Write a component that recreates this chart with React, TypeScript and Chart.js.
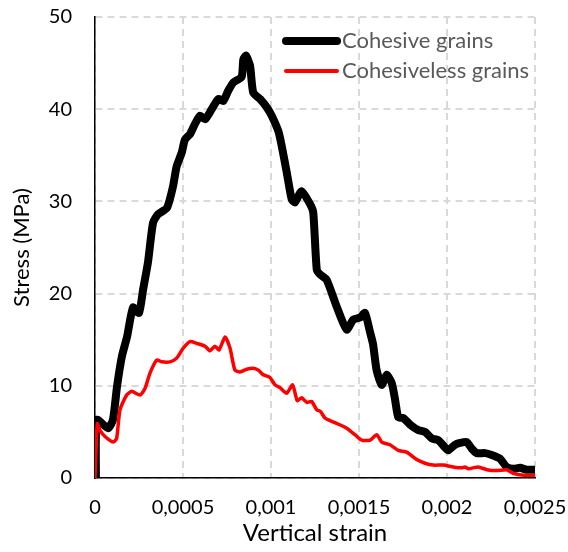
import React, { useEffect, useRef } from "react";
import { Chart, registerables } from "chart.js";

Chart.register(...registerables);

const seriesNames = ["Cohesive grains", "Cohesiveless grains"];

const cohesiveStrain = [
  0.000005, 0.000011, 0.000074, 0.000102, 0.000125, 0.000153, 0.000182, 0.000216, 0.00025, 0.000273,
  0.000301, 0.00033, 0.000358, 0.000409, 0.000443, 0.000464, 0.000493, 0.000511, 0.00054, 0.000568,
  0.000597, 0.000625, 0.000663, 0.000701, 0.000729, 0.000757, 0.000786, 0.000833, 0.000843, 0.000858,
  0.000881, 0.000899, 0.000938, 0.000976, 0.001004, 0.001042, 0.001061, 0.001089, 0.001118, 0.001136,
  0.001174, 0.001222, 0.00124, 0.00126, 0.001278, 0.001316, 0.001373, 0.00143, 0.001468, 0.001506,
  0.001534, 0.001563, 0.00158, 0.0016, 0.001629, 0.001657, 0.001686, 0.001705, 0.001723, 0.001752,
  0.00179, 0.001837, 0.001875, 0.001913, 0.001951, 0.001989, 0.002007, 0.002045, 0.002074, 0.002112,
  0.00214, 0.002169, 0.002216, 0.002254, 0.002301, 0.002339, 0.002377, 0.002415, 0.002453, 0.0025,
];
const cohesiveStress = [
  0, 6.3, 5.4, 6.3, 9.9, 13.2, 15.3, 18.5, 17.9, 20.4,
  23.4, 27.7, 28.6, 29.3, 31.6, 33.8, 35.3, 36.7, 37.3, 38.4,
  39.3, 38.9, 40.0, 41.1, 40.9, 42.0, 42.9, 43.5, 45.4, 45.8,
  44.7, 41.8, 41.1, 40.2, 39.3, 37.6, 36.0, 33.2, 30.2, 29.9,
  31.1, 29.7, 28.8, 22.6, 22.1, 21.5, 18.6, 16.1, 17.2, 17.4,
  17.9, 15.8, 14.5, 11.7, 10.1, 11.2, 10.3, 8.5, 6.6, 6.5,
  5.8, 5.2, 5.0, 4.3, 4.1, 3.3, 3.0, 3.6, 3.8, 3.9,
  3.2, 2.7, 2.7, 2.5, 2.1, 1.2, 1.0, 1.1, 0.9, 0.9,
];

const cohesivelessStrain = [
  0, 0.000013, 0.000028, 0.000057, 0.000104, 0.000123, 0.000142, 0.00018, 0.000209, 0.000256,
  0.000284, 0.000313, 0.000351, 0.000379, 0.000426, 0.000464, 0.000502, 0.00054, 0.000578, 0.000625,
  0.000653, 0.000682, 0.000705, 0.000739, 0.000767, 0.000795, 0.000824, 0.000862, 0.000899, 0.000928,
  0.000956, 0.000994, 0.001023, 0.001051, 0.001089, 0.001123, 0.001149, 0.001174, 0.001203, 0.001231,
  0.00126, 0.001282, 0.001307, 0.001364, 0.00143, 0.001477, 0.001515, 0.001563, 0.001601, 0.001629,
  0.001676, 0.001723, 0.001771, 0.001828, 0.001875, 0.001922, 0.001979, 0.002036, 0.002084, 0.002102,
  0.002121, 0.002178, 0.002226, 0.002282, 0.002339, 0.002377, 0.002434, 0.0025,
];
const cohesivelessStress = [
  0, 5.9, 5.2, 4.5, 3.9, 4.3, 7.4, 9.0, 9.4, 9.0,
  9.7, 11.4, 12.8, 12.6, 12.6, 13.0, 14.1, 14.8, 14.6, 14.3,
  13.8, 14.3, 13.9, 15.3, 14.1, 11.7, 11.5, 11.8, 11.9, 11.7,
  11.2, 10.9, 10.1, 9.8, 9.2, 10.1, 8.4, 8.7, 8.2, 8.3,
  7.4, 7.2, 6.5, 6.0, 5.4, 4.7, 4.1, 4.1, 4.7, 3.9,
  3.6, 3.0, 2.8, 2.0, 1.6, 1.4, 1.4, 1.2, 1.1, 1.2,
  1.0, 1.2, 0.9, 0.8, 0.9, 0.5, 0.3, 0.3,
];

const xTitle = "Vertical strain";
const yTitle = "Stress (MPa)";

const FONT = "Lato, 'Open Sans', sans-serif";

function toPoints(xs: number[], ys: number[]) {
  return xs.map((x, i) => ({ x, y: ys[i] }));
}

const legendPlugin = {
  id: "insideLegend",
  afterDraw(chart: any) {
    const ctx = chart.ctx;
    const items = [
      { color: "#000000", width: 8, y: 41 },
      { color: "#ff0000", width: 4, y: 71 },
    ];
    ctx.save();
    items.forEach((it, i) => {
      ctx.beginPath();
      ctx.strokeStyle = it.color;
      ctx.lineWidth = it.width;
      ctx.lineCap = "round";
      ctx.moveTo(286, it.y);
      ctx.lineTo(337, it.y);
      ctx.stroke();
      ctx.fillStyle = "#595959";
      ctx.font = `22px ${FONT}`;
      ctx.textBaseline = "middle";
      ctx.textAlign = "left";
      ctx.fillText(seriesNames[i], 342, it.y);
    });
    ctx.restore();
  },
};

export default function App() {
  const ref = useRef<HTMLCanvasElement>(null);
  useEffect(() => {
    if (!ref.current) return;
    const fmt = (v: number, d: number) => String(Math.round(v * d) / d).replace(".", ",");
    const chart = new Chart(ref.current, {
      type: "scatter",
      data: {
        datasets: [
          {
            label: seriesNames[0],
            data: toPoints(cohesiveStrain, cohesiveStress),
            showLine: true,
            borderColor: "#000000",
            backgroundColor: "#000000",
            borderWidth: 8,
            pointRadius: 0,
            borderJoinStyle: "round",
            borderCapStyle: "round",
            tension: 0.2,
            order: 2,
          },
          {
            label: seriesNames[1],
            data: toPoints(cohesivelessStrain, cohesivelessStress),
            showLine: true,
            borderColor: "#ff0000",
            backgroundColor: "#ff0000",
            borderWidth: 3.5,
            pointRadius: 0,
            borderJoinStyle: "round",
            borderCapStyle: "round",
            tension: 0.2,
            order: 1,
          },
        ],
      },
      options: {
        responsive: false,
        animation: false,
        layout: { padding: { top: 17, right: 33, left: 9, bottom: 0 } },
        plugins: { legend: { display: false }, tooltip: { enabled: false } },
        scales: {
          x: {
            type: "linear",
            min: 0,
            max: 0.0025,
            ticks: {
              stepSize: 0.0005,
              color: "#000",
              font: { family: FONT, size: 20 },
              padding: 18,
              maxRotation: 0,
              callback: (v: any) => fmt(Number(v), 10000),
            },
            grid: {
              color: "#d9d9d9",
              lineWidth: 2,
              drawTicks: false,
            },
            border: { display: true, color: "#000", width: 1.5, dash: [7, 5] },
            title: {
              display: true,
              text: xTitle,
              color: "#000",
              font: { family: FONT, size: 24 },
              padding: { top: 0, bottom: 4 },
            },
            afterFit: (s: any) => {
              s.height = 74;
              s.paddingLeft = 0;
              s.paddingRight = 0;
            },
          },
          y: {
            type: "linear",
            min: 0,
            max: 50,
            ticks: {
              stepSize: 10,
              color: "#000",
              font: { family: FONT, size: 20 },
              padding: 23,
              callback: (v: any) => fmt(Number(v), 1),
            },
            grid: {
              color: "#d9d9d9",
              lineWidth: 2,
              drawTicks: false,
            },
            border: { display: true, color: "#000", width: 1.5, dash: [7, 5] },
            title: {
              display: true,
              text: yTitle,
              color: "#000",
              font: { family: FONT, size: 22 },
              padding: { top: 0, bottom: 0 },
            },
            afterFit: (s: any) => {
              s.width = 86;
              s.paddingTop = 0;
              s.paddingBottom = 0;
            },
          },
        },
      } as any,
      plugins: [legendPlugin],
    });
    return () => chart.destroy();
  }, []);
  return (
    <div style={{ position: "fixed", left: 0, top: 0, width: 568, height: 552, background: "#fff" }}>
      <canvas ref={ref} width={568} height={552} style={{ display: "block" }} />
    </div>
  );
}
